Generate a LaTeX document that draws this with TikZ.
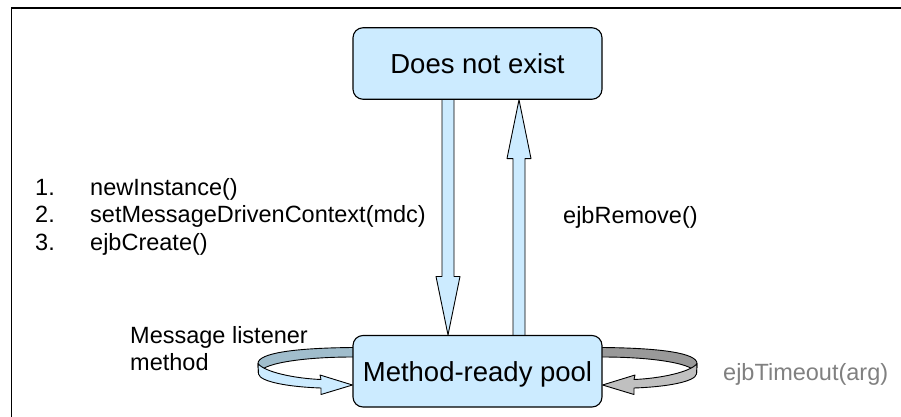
\documentclass[tikz,border=0pt]{standalone}
\usepackage{fontspec}
\setmainfont{Liberation Sans}
\usetikzlibrary{calc,backgrounds}
\definecolor{boxblue}{RGB}{204,235,255}
\definecolor{backblue}{RGB}{160,189,204}
\definecolor{backgray}{RGB}{153,153,153}
\definecolor{frontgray}{RGB}{192,192,192}
\definecolor{txtgray}{RGB}{128,128,128}
\begin{document}
\begin{tikzpicture}[x=1pt,y=-1pt,
  statebox/.style={draw=black, line width=1.1pt, fill=boxblue, rounded corners=10pt,
    minimum width=249pt, minimum height=71.5pt, inner sep=0pt,
    text height=20pt, text depth=0pt, font=\fontsize{27.5}{33}\selectfont},
  lbl/.style={anchor=base west, inner sep=0pt, font=\fontsize{23.5}{27.5}\selectfont},
  outl/.style={draw=black, line width=0.9pt, line join=round}]
\useasboundingbox (0,0) rectangle (901,417);
\draw[line width=1.2pt] (11.5,417) -- (11.5,8) -- (901,8);

% state boxes
\node[statebox] (dne) at (477.5,63.5) {Does not exist};
\node[statebox] (pool) at (477.5,371.25) {Method-ready pool};

\begin{scope}[on background layer]
  % back parts of the loops
  \filldraw[outl, fill=backblue] (362,347.5) -- (353,347.5) .. controls (295,348) and (258,353) .. (258,363.5)
     -- (258.5,374) .. controls (259,364) and (300,357) .. (353,357) -- (362,357) -- cycle;
  \filldraw[outl, fill=backgray] (593,347.5) -- (602,347.5) .. controls (660,348) and (697,353) .. (697,363.5)
     -- (696.5,374) .. controls (696,364) and (655,357) .. (602,357) -- (593,357) -- cycle;
  % down arrow
  \filldraw[outl, fill=boxblue] ($(dne.south)+(-35.5,0)$) -- ($(pool.north)+(-35.5,-58.5)$)
     -- ($(pool.north)+(-41.5,-58.5)$) -- ($(pool.north)+(-29.5,0)$)
     -- ($(pool.north)+(-17.5,-58.5)$) -- ($(pool.north)+(-23.5,-58.5)$)
     -- ($(dne.south)+(-23.5,0)$);
  % up arrow
  \filldraw[outl, fill=boxblue] ($(pool.north)+(35.5,0)$) -- ($(dne.south)+(35.5,58.75)$)
     -- ($(dne.south)+(29.5,58.75)$) -- ($(dne.south)+(41.5,0)$)
     -- ($(dne.south)+(53.5,58.75)$) -- ($(dne.south)+(47.5,58.75)$)
     -- ($(pool.north)+(47.5,0)$);
\end{scope}

% front parts of the loops with arrow heads
\filldraw[outl, fill=boxblue] (258,363.5) .. controls (264,372) and (295,378.5) .. (321,379.5)
   -- (320,375) -- ($(pool.west)+(0,13.75)$) -- (321,394.5) -- (321,388)
   .. controls (290,387) and (260,382) .. (258.5,374) -- cycle;
\filldraw[outl, fill=frontgray] (697,363.5) .. controls (691,372) and (660,378.5) .. (634,379.5)
   -- (635,375) -- ($(pool.east)+(0,13.75)$) -- (634,394.5) -- (634,388)
   .. controls (665,387) and (695,382) .. (696.5,374) -- cycle;

% labels
\node[lbl] (n1) at (35,195) {1.};
\node[lbl] (t1) at (90,195) {newInstance()};
\node[lbl] (n2) at (35,222.5) {2.};
\node[lbl] (t2) at (90,222.5) {setMessageDrivenContext(mdc)};
\node[lbl] (n3) at (35,250) {3.};
\node[lbl] (t3) at (90,250) {ejbCreate()};
\node[lbl] (rm) at (563,223) {ejbRemove()};
\node[lbl] (ml1) at (130,343) {Message listener};
\node[lbl] (ml2) at (130,370) {method};
\node[lbl, text=txtgray] (to) at (723,380) {ejbTimeout(arg)};
\end{tikzpicture}
\end{document}
